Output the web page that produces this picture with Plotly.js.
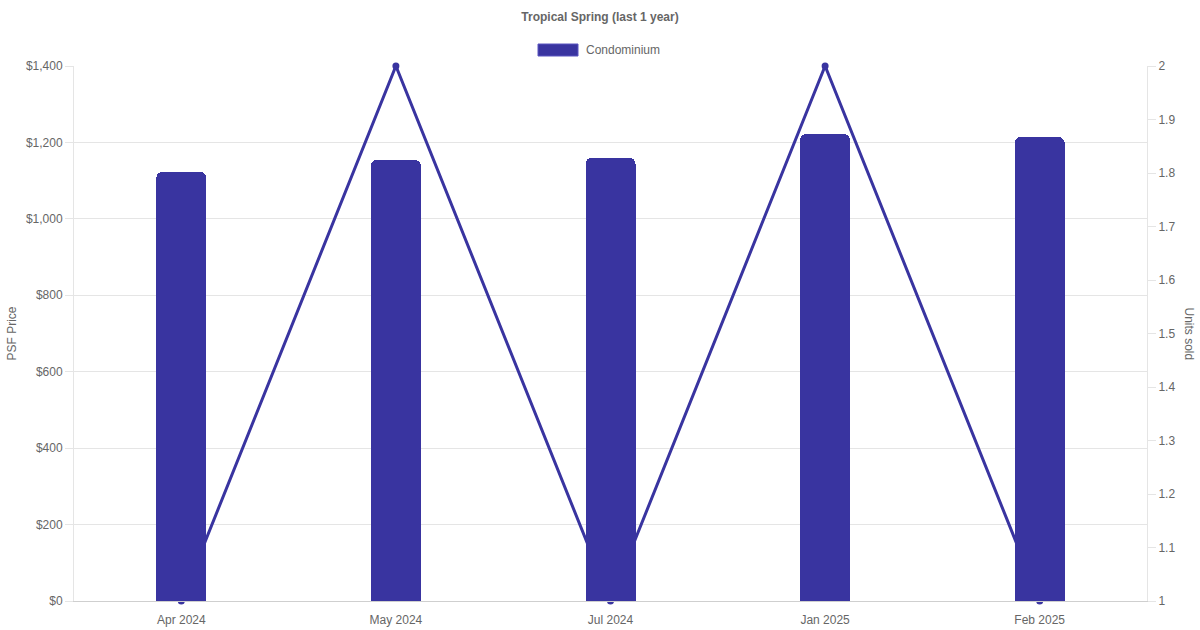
<!DOCTYPE html>
<html>
<head>
<meta charset="utf-8">
<script src="https://cdn.plot.ly/plotly-3.0.1.min.js"></script>
<style>html,body{margin:0;padding:0;background:#fff}#chart{width:1200px;height:630px}</style>
</head>
<body>
<div id="chart"></div>
<script>
const months = ["Apr 2024", "May 2024", "Jul 2024", "Jan 2025", "Feb 2025"];
const psfPrice = [1123, 1154, 1160, 1222, 1214];
const unitsSold = [1, 2, 1, 2, 1];
const priceTicks = [0, 200, 400, 600, 800, 1000, 1200, 1400];
const priceTickLabels = ["$0", "$200", "$400", "$600", "$800", "$1,000", "$1,200", "$1,400"];
const seriesName = "Condominium";

const color = "#3934a0";
const fontFam = "Liberation Sans, Arial, Helvetica, sans-serif";

const traces = [
  {
    type: "scatter", mode: "lines+markers", x: months, y: unitsSold,
    yaxis: "y", line: {color: color, width: 3}, marker: {color: color, size: 7},
    cliponaxis: false, showlegend: false, hoverinfo: "x+y"
  },
  {
    type: "bar", x: months, y: psfPrice, name: seriesName, yaxis: "y2",
    marker: {color: color, cornerradius: 6}, width: 0.233, showlegend: false
  }
];

const layout = {
  width: 1200, height: 630,
  margin: {l: 74, r: 53, t: 66, b: 29},
  paper_bgcolor: "#fff", plot_bgcolor: "#fff",
  font: {family: fontFam, size: 12, color: "#666"},
  title: {text: "<b>Tropical Spring (last 1 year)</b>", font: {size: 12, color: "#666", family: fontFam}, x: 0.5, xanchor: "center", y: 0.973, yanchor: "middle"},
  showlegend: false,
  bargap: 0,
  xaxis: {
    type: "category", range: [-0.5, 4.5], showgrid: false, showline: true,
    linecolor: "#cfcfcf", linewidth: 1, ticks: "", tickfont: {size: 12, color: "#666"},
    ticklabelstandoff: 8, zeroline: false, mirror: false
  },
  yaxis: {
    side: "right", range: [1, 2], dtick: 0.1, showgrid: false, zeroline: false,
    showline: true, linecolor: "#e5e5e5", ticks: "outside", ticklen: 8, tickcolor: "#e5e5e5",
    tickfont: {size: 12, color: "#666"}
  },
  yaxis2: {
    overlaying: "y", side: "left", range: [0, 1400], tickmode: "array",
    tickvals: priceTicks, ticktext: priceTickLabels,
    showgrid: true, gridcolor: "#e5e5e5", zeroline: false,
    showline: true, linecolor: "#e5e5e5", ticks: "outside", ticklen: 8, tickcolor: "#e5e5e5",
    tickfont: {size: 12, color: "#666"}
  },
  shapes: [
    {type: "rect", xref: "paper", yref: "paper", x0: (538-74)/1073, x1: (578-74)/1073,
     y0: (601-56)/535, y1: (601-44)/535, fillcolor: color, line: {color: "#5a55c0", width: 1}}
  ],
  annotations: [
    {text: seriesName, xref: "paper", yref: "paper", x: (584-74)/1073, y: (601-50)/535,
     xanchor: "left", yanchor: "middle", showarrow: false, font: {size: 12, color: "#666"}},
    {text: "PSF Price", xref: "paper", yref: "paper", x: (11-74)/1073, y: 0.5, textangle: -90,
     xanchor: "center", yanchor: "middle", showarrow: false, font: {size: 12, color: "#666"}},
    {text: "Units sold", xref: "paper", yref: "paper", x: (1189-74)/1073, y: 0.5, textangle: 90,
     xanchor: "center", yanchor: "middle", showarrow: false, font: {size: 12, color: "#666"}}
  ]
};

Plotly.newPlot("chart", traces, layout, {displayModeBar: false, staticPlot: true});
</script>
</body>
</html>
